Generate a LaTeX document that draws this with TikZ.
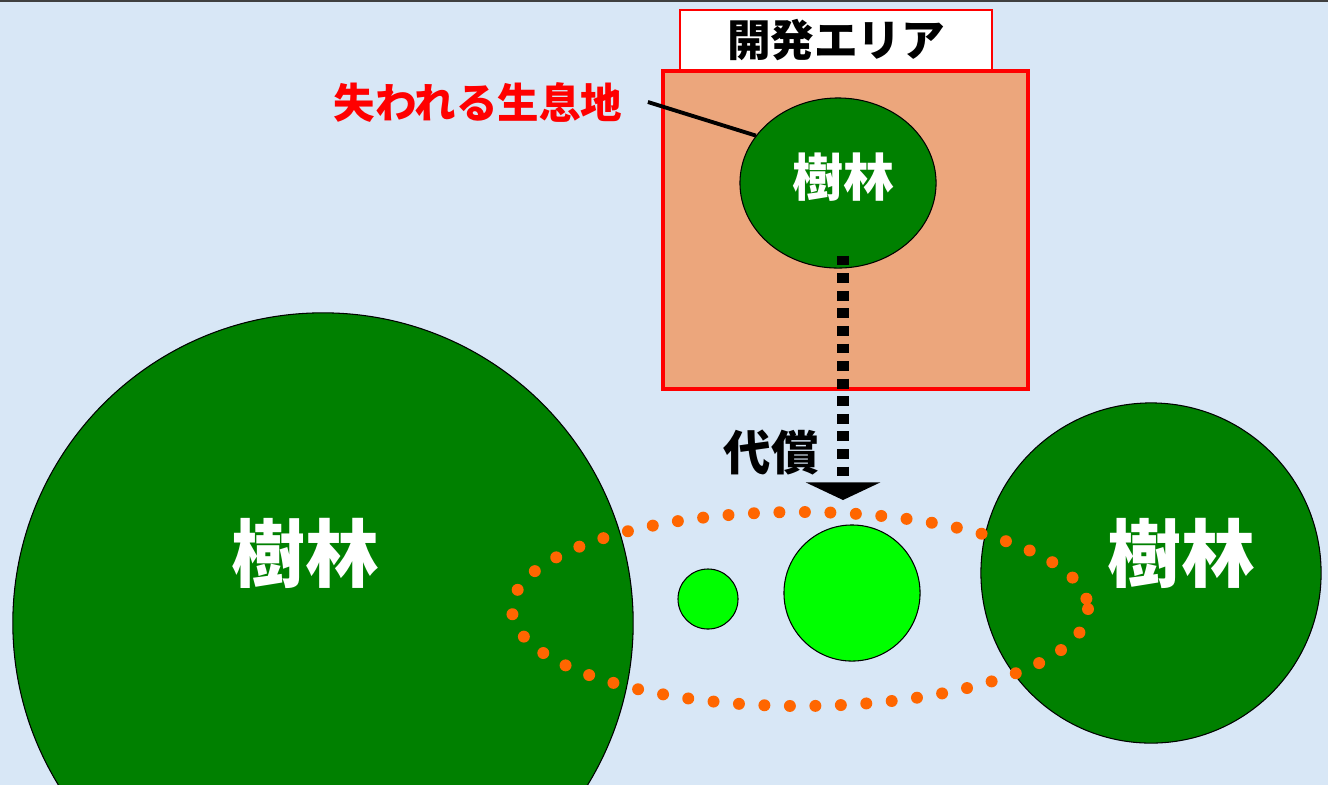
\documentclass[tikz,border=0pt]{standalone}
\usepackage{xcolor}
\usepackage{fontspec}
\usepackage{tikz}
\usetikzlibrary{shapes.geometric,arrows.meta}
\newfontfamily\jp{Noto Sans CJK JP}
\definecolor{skyback}{RGB}{216,231,246}
\definecolor{forestgreen}{RGB}{0,128,0}
\definecolor{newgreen}{RGB}{0,255,0}
\definecolor{devsalmon}{RGB}{236,166,124}
\definecolor{dotorange}{RGB}{255,102,0}
\tikzset{
  forest/.style={circle,draw=black,line width=0.3pt,fill=forestgreen,inner sep=0pt},
  newforest/.style={circle,draw=black,line width=0.3pt,fill=newgreen,inner sep=0pt},
  whitelabel/.style={text=white,font=\jp\bfseries\fontsize{21pt}{21pt}\selectfont,inner sep=0pt}
}

\begin{document}
\begin{tikzpicture}[x=.01cm,y=-.01cm]
        \useasboundingbox (0,0) rectangle (1328,784);
        \clip (0,0) rectangle (1328,784);
        \fill[skyback] (-5,-5) rectangle (1333,789);
        \fill[black!75] (-5,-5) rectangle (1333,2);
        % development area
        \node[draw=red,line width=1pt,fill=devsalmon,minimum width=3.65cm,minimum height=3.18cm,inner sep=0pt] (area) at (845.5,230) {};
        \node[draw=red,line width=0.6pt,fill=white,minimum width=3.12cm,minimum height=0.6cm,inner sep=0pt,font=\jp\bfseries\fontsize{12.4pt}{12.4pt}\selectfont] (areatitle) at (836,40) {開発エリア};
        \node[ellipse,draw=black,line width=0.3pt,fill=forestgreen,minimum width=1.96cm,minimum height=1.7cm,inner sep=0pt] (lost) at (838,183) {};
        \node[whitelabel,font=\jp\bfseries\fontsize{14.5pt}{14.5pt}\selectfont] (losttext) at (843,177) {樹林};
        \node[text=red,inner sep=0pt,font=\jp\bfseries\fontsize{11.8pt}{11.8pt}\selectfont] (lostlabel) at (478,102) {失われる生息地};
        \draw[line width=1.1pt] (lostlabel.east) ++(25,0) -- (lost.150);
        % forests
        \node[forest,minimum size=6.2cm] (forestL) at (323,623) {};
        \node[whitelabel] (forestLtext) at (305,553) {樹林};
        \node[forest,minimum size=3.4cm] (forestR) at (1151,573) {};
        \node[whitelabel] (forestRtext) at (1181,553) {樹林};
        % compensation
        \node[newforest,minimum size=0.6cm] (newsmall) at (708,599) {};
        \node[newforest,minimum size=1.36cm] (newbig) at (852,593) {};
        \draw[dotorange,line width=3.4pt,line cap=round,dash pattern=on 0pt off 7.25pt] (800,609) ellipse (288 and 97);
        \coordinate (arrowend) at (843,500);
        \draw[line width=3.5pt,dash pattern=on 2.8pt off 2.2pt,-{Triangle[width=21pt,length=5pt]}] (lost.south) ++(5,-13) -- (arrowend);
        \node[font=\jp\bfseries\fontsize{13.5pt}{13.5pt}\selectfont,inner sep=0pt] (comp) at (771,452) {代償};
\end{tikzpicture}
\end{document}
